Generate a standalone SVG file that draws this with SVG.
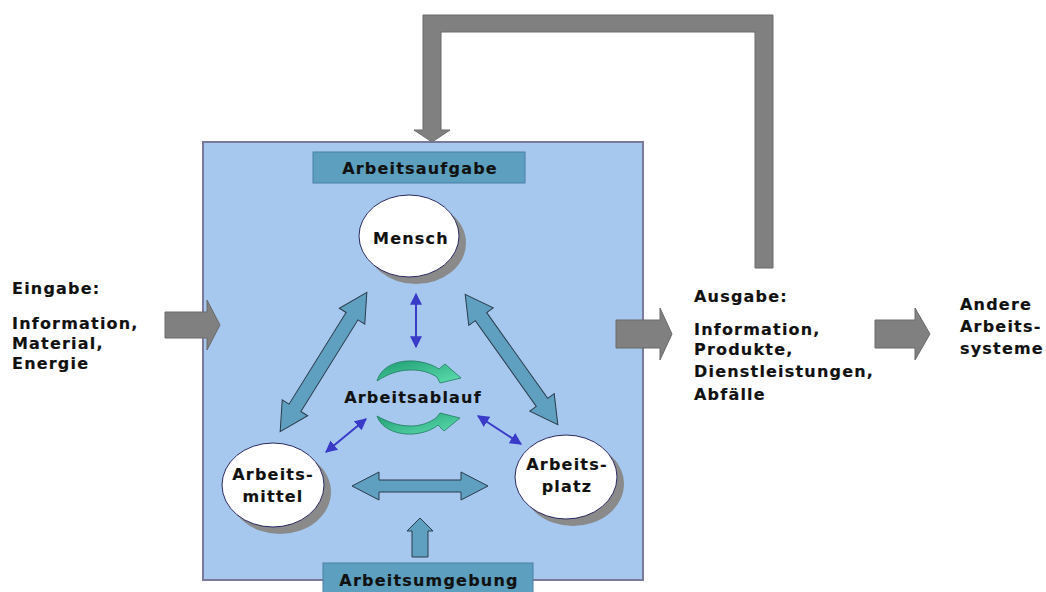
<svg xmlns="http://www.w3.org/2000/svg" width="1046" height="592" viewBox="0 0 1046 592">
<style>
text{font-family:"DejaVu Sans","Verdana",sans-serif;font-weight:bold;font-size:16px;letter-spacing:1.2px;fill:#111;stroke:#111;stroke-width:0.15}
.c{text-anchor:middle}
.gray{fill:#808080;stroke:#6a6a6a;stroke-width:1}
.big{fill:#5f9fbf;stroke:#2a3a4a;stroke-width:1}
.lab{fill:#5c9fbf;stroke:#4a7fa8;stroke-width:1}
.ell{fill:#fff;stroke:#2a2a60;stroke-width:1}
.sh{fill:#8a8a8a}
.blue{stroke:#3a3ac8;stroke-width:2;fill:none;marker-start:url(#bh);marker-end:url(#bh)}
.cyc{fill:url(#gg);stroke:#1f7a5e;stroke-width:0.8}
</style>
<defs>
<marker id="bh" viewBox="0 0 10 10" refX="9" refY="5" markerWidth="6" markerHeight="6" orient="auto-start-reverse" markerUnits="strokeWidth">
<path d="M0,0 L10,5 L0,10 Z" fill="#3a3ac8"/>
</marker>
<linearGradient id="gg" x1="0" y1="0" x2="1" y2="1">
<stop offset="0" stop-color="#1e9c72"/>
<stop offset="1" stop-color="#5fe0b0"/>
</linearGradient>
<polygon id="dbl" points="-82,0 -54,-15 -54,-7 54,-7 54,-15 82,0 54,15 54,7 -54,7 -54,15"/>
</defs>

<g id="system">
<rect x="203" y="142" width="440" height="438" fill="#a6c8ee" stroke="#7a7a9a" stroke-width="2"/>
</g>

<g id="connectors">
<path class="gray" d="M755,268 L755,32 L441,32 L441,130 L450,130 L432,142 L414,130 L423,130 L423,15 L773,15 L773,268 Z"/>
<path class="gray" d="M165,312 L207,312 L207,300 L220,325 L207,350 L207,338 L165,338 Z"/>
<path class="gray" d="M616,320 L660,320 L660,308 L672,334 L660,360 L660,348 L616,348 Z"/>
<path class="gray" d="M875,320 L915,320 L915,308 L930,334 L915,360 L915,348 L875,348 Z"/>
<use href="#dbl" class="big" transform="translate(323.5,362) rotate(121.9)"/>
<use href="#dbl" class="big" transform="translate(511.5,359.5) rotate(54.6) scale(0.975,1)"/>
<polygon class="big" points="352,486 379,472 379,480 461,480 461,472 488,486 461,500 461,492 379,492 379,500"/>
<polygon class="big" points="420,518 433,531 428,531 428,557 412,557 412,531 407,531"/>
<line class="blue" x1="416" y1="294" x2="416" y2="347"/>
<line class="blue" x1="366" y1="419" x2="326" y2="452"/>
<line class="blue" x1="478" y1="416" x2="521" y2="444"/>
<path class="cyc" d="M377,381 C381,367 396,360 414,361 C425,362 433,365 439,369 L445,364 L461,378 L440,383 L437,377 C429,372 421,370 411,370 C398,370 388,374 377,381 Z"/>
<path class="cyc" d="M377,416 C381,428 396,435 413,434 C424,433 432,430 438,425 L444,431 L460,418 L440,413 L436,418 C429,423 420,426 411,426 C398,426 388,422 377,416 Z"/>
</g>

<g id="arbeitsaufgabe">
<rect class="lab" x="313" y="152" width="212" height="31"/>
<text class="c" x="420" y="174">Arbeitsaufgabe</text>
</g>

<g id="mensch">
<ellipse class="sh" cx="416" cy="243" rx="50" ry="41"/>
<ellipse class="ell" cx="409" cy="236" rx="50" ry="41"/>
<text class="c" x="411" y="244">Mensch</text>
</g>

<g id="arbeitsmittel">
<ellipse class="sh" cx="280" cy="492" rx="51" ry="42"/>
<ellipse class="ell" cx="273" cy="485" rx="51" ry="42"/>
<text class="c" x="273" y="480">Arbeits-</text>
<text class="c" x="273" y="502">mittel</text>
</g>

<g id="arbeitsplatz">
<ellipse class="sh" cx="573" cy="484" rx="51" ry="42"/>
<ellipse class="ell" cx="566" cy="477" rx="51" ry="42"/>
<text class="c" x="567" y="470">Arbeits-</text>
<text class="c" x="567" y="492">platz</text>
</g>

<g id="arbeitsablauf">
<text class="c" x="413" y="403">Arbeitsablauf</text>
</g>

<g id="arbeitsumgebung">
<rect class="lab" x="323" y="563" width="210" height="34"/>
<text class="c" x="429" y="586">Arbeitsumgebung</text>
</g>

<g id="eingabe">
<text x="12" y="294">Eingabe:</text>
<text x="12" y="329">Information,</text>
<text x="12" y="349">Material,</text>
<text x="12" y="369">Energie</text>
</g>

<g id="ausgabe">
<text x="694" y="302">Ausgabe:</text>
<text x="694" y="335">Information,</text>
<text x="694" y="355">Produkte,</text>
<text x="694" y="377">Dienstleistungen,</text>
<text x="694" y="400">Abfälle</text>
</g>

<g id="andere">
<text x="960" y="310">Andere</text>
<text x="960" y="332">Arbeits-</text>
<text x="960" y="354">systeme</text>
</g>
</svg>
